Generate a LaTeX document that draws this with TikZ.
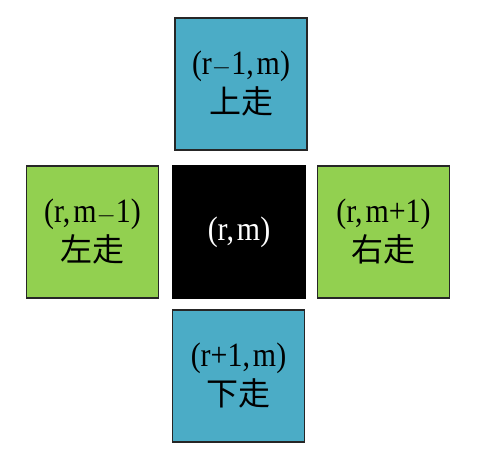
\documentclass[tikz,border=0pt]{standalone}
\usepackage{fontspec}
\setmainfont{Liberation Serif}[FakeStretch=0.88]
\newfontfamily\cjk{Noto Sans CJK SC}
\usepackage{tikz}
\definecolor{upblue}{HTML}{4BACC6}
\definecolor{sidegreen}{HTML}{92D050}
\tikzstyle{cell}=[draw=black!85,line width=1.2pt,minimum width=132pt,minimum height=132pt,align=center,font=\fontsize{34}{39}\selectfont,inner sep=0pt]

\begin{document}
\begin{tikzpicture}[x=1pt,y=-1pt]
\useasboundingbox (0,0) rectangle (485,475);
  \foreach \place/\name/\col/\txt in {{(241,84)/up/upblue/(r$-$1,\kern3pt m)\\{\cjk\fontsize{32}{39}\selectfont 上走}},
                            {(92.5,232)/left/sidegreen/(r,\kern3pt m$-$1)\\{\cjk\fontsize{32}{39}\selectfont 左走}},
                            {(383.5,232)/right/sidegreen/(r,\kern3pt m+1)\\{\cjk\fontsize{32}{39}\selectfont 右走}},
                            {(238.5,376)/down/upblue/(r+1,\kern3pt m)\\{\cjk\fontsize{32}{39}\selectfont 下走}}}
    \node[cell,fill=\col] (\name) at \place {\txt};
  \node[cell,fill=black,draw=black,text=white] (here) at (239,232) {(r,\kern3pt m)};
\end{tikzpicture}
\end{document}
